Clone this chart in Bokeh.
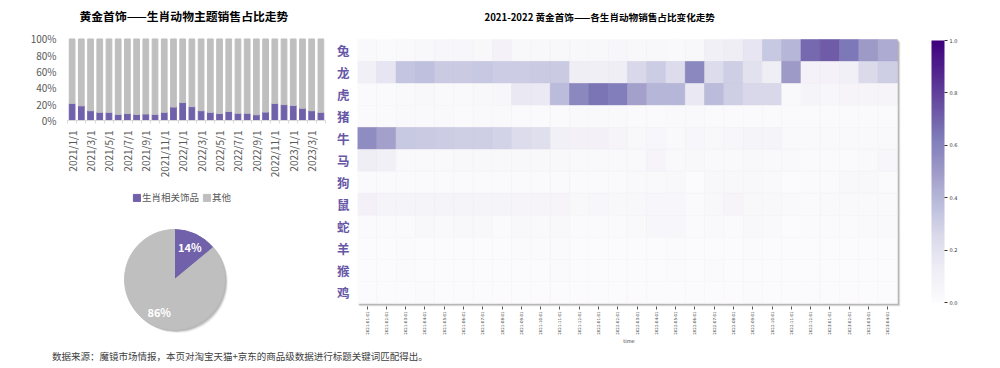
import math
from bokeh.plotting import figure
from bokeh.layouts import row, column
from bokeh.models import (ColumnDataSource, Range1d, FixedTicker, Legend, LegendItem,
                          LinearColorMapper, ColorBar, Div, Label, NumeralTickFormatter,
                          PrintfTickFormatter)
from bokeh.palettes import Purples256
from bokeh.transform import linear_cmap
from bokeh.embed import file_html
from bokeh.resources import INLINE

FONT = "Noto Sans CJK SC"
PURPLE = "#7161ab"
GREY = "#bfbfbf"
LABEL_PURPLE = "#6757a6"

# ---------------- data ----------------
bar_labels = ["2021/1/1", "2021/2/1", "2021/3/1", "2021/4/1", "2021/5/1", "2021/6/1", "2021/7/1",
              "2021/8/1", "2021/9/1", "2021/10/1", "2021/11/1", "2021/12/1", "2022/1/1", "2022/2/1",
              "2022/3/1", "2022/4/1", "2022/5/1", "2022/6/1", "2022/7/1", "2022/8/1", "2022/9/1",
              "2022/10/1", "2022/11/1", "2022/12/1", "2023/1/1", "2023/2/1", "2023/3/1", "2023/4/1"]
zodiac_share = [0.21, 0.18, 0.12, 0.10, 0.10, 0.075, 0.085, 0.075, 0.08, 0.075, 0.10, 0.165,
                0.22, 0.17, 0.12, 0.10, 0.085, 0.11, 0.088, 0.088, 0.07, 0.103, 0.21, 0.195,
                0.185, 0.15, 0.12, 0.10]
other_share = [1 - v for v in zodiac_share]

pie_labels = ["生肖相关饰品", "其他"]
pie_values = [14, 86]

months = ["2021-01-01", "2021-02-01", "2021-03-01", "2021-04-01", "2021-05-01", "2021-06-01",
          "2021-07-01", "2021-08-01", "2021-09-01", "2021-10-01", "2021-11-01", "2021-12-01",
          "2022-01-01", "2022-02-01", "2022-03-01", "2022-04-01", "2022-05-01", "2022-06-01",
          "2022-07-01", "2022-08-01", "2022-09-01", "2022-10-01", "2022-11-01", "2022-12-01",
          "2023-01-01", "2023-02-01", "2023-03-01", "2023-04-01"]
animals = ["兔", "龙", "虎", "猪", "牛", "马", "狗", "鼠", "蛇", "羊", "猴", "鸡"]

rabbit = [0.03, 0.02, 0.03, 0.04, 0.05, 0.05, 0.04, 0.08, 0.04, 0.04, 0.04, 0.04, 0.04, 0.05,
          0.04, 0.04, 0.03, 0.04, 0.10, 0.12, 0.18, 0.33, 0.40, 0.68, 0.72, 0.64, 0.50, 0.44]
dragon = [0.10, 0.18, 0.34, 0.36, 0.32, 0.32, 0.33, 0.31, 0.31, 0.32, 0.32, 0.12, 0.11, 0.12,
          0.26, 0.31, 0.24, 0.58, 0.24, 0.30, 0.20, 0.12, 0.50, 0.08, 0.08, 0.10, 0.25, 0.30]
tiger = [0.02, 0.02, 0.03, 0.04, 0.03, 0.03, 0.04, 0.05, 0.16, 0.15, 0.38, 0.58, 0.65, 0.62,
         0.48, 0.40, 0.40, 0.16, 0.38, 0.30, 0.26, 0.26, 0.03, 0.07, 0.05, 0.06, 0.06, 0.06]
pig = [0.02, 0.02, 0.03, 0.03, 0.03, 0.02, 0.03, 0.03, 0.02, 0.02, 0.02, 0.03, 0.03, 0.03,
       0.02, 0.02, 0.03, 0.03, 0.02, 0.02, 0.02, 0.02, 0.02, 0.02, 0.02, 0.02, 0.02, 0.02]
ox = [0.56, 0.48, 0.33, 0.32, 0.31, 0.30, 0.30, 0.28, 0.24, 0.22, 0.10, 0.09, 0.09, 0.06,
      0.04, 0.05, 0.03, 0.05, 0.04, 0.05, 0.07, 0.07, 0.03, 0.03, 0.03, 0.03, 0.03, 0.03]
horse = [0.12, 0.10, 0.03, 0.03, 0.03, 0.04, 0.04, 0.04, 0.04, 0.04, 0.04, 0.03, 0.03, 0.03,
         0.03, 0.06, 0.03, 0.04, 0.03, 0.03, 0.04, 0.03, 0.03, 0.02, 0.02, 0.02, 0.03, 0.05]
dog = [0.02, 0.02, 0.02, 0.02, 0.02, 0.02, 0.02, 0.02, 0.02, 0.02, 0.02, 0.02, 0.02, 0.02,
       0.03, 0.03, 0.04, 0.01, 0.04, 0.04, 0.04, 0.03, 0.01, 0.02, 0.02, 0.04, 0.04, 0.02]
rat = [0.09, 0.07, 0.07, 0.07, 0.07, 0.07, 0.07, 0.07, 0.06, 0.06, 0.06, 0.04, 0.05, 0.04,
       0.04, 0.05, 0.05, 0.02, 0.04, 0.06, 0.04, 0.04, 0.03, 0.02, 0.03, 0.03, 0.03, 0.03]
snake = [0.02, 0.02, 0.02, 0.04, 0.03, 0.04, 0.04, 0.02, 0.04, 0.03, 0.04, 0.02, 0.02, 0.02,
         0.03, 0.05, 0.05, 0.02, 0.03, 0.02, 0.04, 0.03, 0.01, 0.02, 0.02, 0.02, 0.03, 0.03]
goat = [0.01, 0.01, 0.02, 0.01, 0.01, 0.01, 0.01, 0.01, 0.02, 0.02, 0.02, 0.01, 0.01, 0.01,
        0.01, 0.01, 0.02, 0.01, 0.01, 0.01, 0.02, 0.01, 0.01, 0.01, 0.01, 0.01, 0.01, 0.01]
monkey = [0.01, 0.01, 0.02, 0.01, 0.01, 0.01, 0.01, 0.01, 0.01, 0.01, 0.02, 0.01, 0.01, 0.01,
          0.01, 0.01, 0.02, 0.01, 0.02, 0.01, 0.01, 0.01, 0.01, 0.01, 0.01, 0.01, 0.01, 0.01]
rooster = [0.01, 0.01, 0.01, 0.02, 0.01, 0.01, 0.01, 0.01, 0.01, 0.01, 0.01, 0.01, 0.01, 0.01,
           0.01, 0.01, 0.01, 0.01, 0.01, 0.01, 0.02, 0.01, 0.01, 0.01, 0.01, 0.01, 0.01, 0.01]
heat_rows = [rabbit, dragon, tiger, pig, ox, horse, dog, rat, snake, goat, monkey, rooster]

title_left = "黄金首饰——生肖动物主题销售占比走势"
title_right = "2021-2022 黄金首饰——各生肖动物销售占比变化走势"
source_note = "数据来源：魔镜市场情报，本页对淘宝天猫+京东的商品级数据进行标题关键词匹配得出。"

HEAD = 31          # px of title space kept inside each frame, above the data area

# ---------------- left: 100% stacked bars ----------------
n = len(bar_labels)
bar_src = ColumnDataSource(dict(x=list(range(n)), zodiac=zodiac_share, other=other_share))

P1_H, P1_BOT = 172, 58
p1_data_h = P1_H - HEAD - P1_BOT            # 83 px for 0..100 %
p1 = figure(width=325, height=P1_H, x_range=Range1d(-0.5, n - 0.5),
            y_range=Range1d(0, 1 + HEAD / p1_data_h),
            output_backend="svg", toolbar_location=None, title=None,
            min_border_left=59, min_border_right=8, min_border_top=0,
            min_border_bottom=P1_BOT)
rs = p1.vbar_stack(["zodiac", "other"], x="x", width=0.62, color=[PURPLE, GREY], source=bar_src)
p1.add_layout(Label(x=12, y=p1_data_h + 22, x_units="screen", y_units="screen",
                    text=title_left, text_font=FONT, text_font_size="11.8px",
                    text_font_style="bold", text_color="#000000", text_baseline="middle",
                    text_align="left"))
p1.xgrid.visible = False
p1.ygrid.visible = False
p1.outline_line_color = None

p1.yaxis.ticker = FixedTicker(ticks=[0, 0.2, 0.4, 0.6, 0.8, 1.0])
p1.yaxis.formatter = NumeralTickFormatter(format="0%")
p1.yaxis.axis_line_color = None
p1.yaxis.major_tick_line_color = None
p1.yaxis.minor_tick_line_color = None
p1.yaxis.major_label_text_font = FONT
p1.yaxis.major_label_text_font_size = "10px"
p1.yaxis.major_label_text_color = "#595959"
p1.yaxis.major_label_standoff = 5

p1.xaxis.ticker = FixedTicker(ticks=list(range(0, n, 2)),
                              minor_ticks=[i - 0.5 for i in range(n + 1)])
p1.xaxis.major_label_overrides = {i: bar_labels[i] for i in range(0, n, 2)}
p1.xaxis.major_label_orientation = math.pi / 2
p1.xaxis.major_label_text_font = FONT
p1.xaxis.major_label_text_font_size = "10px"
p1.xaxis.major_label_text_color = "#595959"
p1.xaxis.axis_line_color = "#d9d9d9"
p1.xaxis.major_tick_line_color = None
p1.xaxis.minor_tick_line_color = "#d9d9d9"
p1.xaxis.minor_tick_out = 3
p1.xaxis.minor_tick_in = 0
p1.xaxis.major_label_standoff = 4

# ---------------- left: legend + pie ----------------
total = sum(pie_values)
starts, ends, mids, cum = [], [], [], 0
for v in pie_values:
    a0 = math.pi / 2 - 2 * math.pi * (cum + v) / total
    a1 = math.pi / 2 - 2 * math.pi * cum / total
    starts.append(a0)
    ends.append(a1)
    mids.append((a0 + a1) / 2)
    cum += v
R = 50
pie_src = ColumnDataSource(dict(start=starts, end=ends, color=[PURPLE, GREY], name=pie_labels))
lab_src = ColumnDataSource(dict(x=[0.72 * R * math.cos(m) for m in mids],
                                y=[0.72 * R * math.sin(m) for m in mids],
                                t=[f"{v}%" for v in pie_values]))

# frame aligned with the bar chart frame (67..325 px); 1 data unit = 1 px
p2 = figure(width=325, height=168, x_range=Range1d(-107, 151), y_range=Range1d(-69, 99),
            output_backend="svg", toolbar_location=None, title=None,
            x_axis_location=None, y_axis_location=None,
            min_border_left=59, min_border_right=8, min_border_top=0, min_border_bottom=0)
p2.grid.visible = False
p2.outline_line_color = None
for off, al in [(3.0, 0.06), (2.2, 0.10), (1.4, 0.14)]:
    p2.circle(x=off, y=-off, radius=R + 0.5, fill_color="#000000", fill_alpha=al, line_color=None)
wedges = p2.wedge(x=0, y=0, radius=R, start_angle="start", end_angle="end", fill_color="color",
                  line_color="color", source=pie_src)
p2.text(x="x", y="y", text="t", source=lab_src, text_color="white", text_align="center",
        text_baseline="middle", text_font_size="11px", text_font_style="bold",
        text_font={"value": FONT})

legend = Legend(items=[LegendItem(label=pie_labels[i], renderers=[wedges], index=i)
                       for i in range(len(pie_labels))],
                orientation="horizontal", location=(65, 144),
                label_text_font=FONT, label_text_font_size="9.5px", label_text_color="#595959",
                glyph_width=9, glyph_height=9, label_height=12, label_standoff=1, spacing=3,
                padding=2, margin=0, border_line_color=None, background_fill_alpha=0)
p2.add_layout(legend, "center")

# ---------------- right: heatmap ----------------
nr = len(animals)
xs, ys, vs = [], [], []
for j, vals in enumerate(heat_rows):
    for i, v in enumerate(vals):
        xs.append(i)
        ys.append(nr - 1 - j)
        vs.append(v)
heat_src = ColumnDataSource(dict(x=xs, y=ys, v=vs))
palette = list(Purples256)[::-1]
mapper = LinearColorMapper(palette=palette, low=0, high=1)

P3_H, P3_BOT = 340, 42
SH = 0.14                                   # shadow depth in cell units
p3_data_h = P3_H - HEAD - P3_BOT            # 267 px
unit_px = p3_data_h / (nr + SH)
p3 = figure(width=659, height=P3_H, x_range=Range1d(-0.5, n - 0.5 + 0.16),
            y_range=Range1d(-0.5 - SH, nr - 0.5 + HEAD / unit_px),
            output_backend="svg", toolbar_location=None, title=None,
            min_border_left=24, min_border_right=92, min_border_top=0,
            min_border_bottom=P3_BOT)
p3.add_layout(Label(x=127, y=p3_data_h + 23, x_units="screen", y_units="screen",
                    text=title_right, text_font=FONT, text_font_size="9.6px",
                    text_font_style="bold", text_color="#000000", text_baseline="middle",
                    text_align="left"))
p3.grid.visible = False
p3.outline_line_color = None

# drop shadow of the heat grid
p3.quad(left=-0.5 + 0.1, right=n - 0.5 + 0.16, bottom=-0.5 - SH, top=nr - 0.5 - 0.1,
        fill_color="#000000", fill_alpha=0.12, line_color=None)
p3.quad(left=-0.5 + 0.05, right=n - 0.5 + 0.09, bottom=-0.5 - 0.08, top=nr - 0.5 - 0.05,
        fill_color="#000000", fill_alpha=0.18, line_color=None)
p3.rect(x="x", y="y", width=1, height=1, source=heat_src,
        fill_color=linear_cmap("v", palette, 0, 1), line_color=linear_cmap("v", palette, 0, 1),
        line_width=0.6)

p3.yaxis.ticker = FixedTicker(ticks=list(range(nr)))
p3.yaxis.major_label_overrides = {nr - 1 - j: a for j, a in enumerate(animals)}
p3.yaxis.major_label_text_font = FONT
p3.yaxis.major_label_text_font_size = "12.5px"
p3.yaxis.major_label_text_font_style = "bold"
p3.yaxis.major_label_text_color = LABEL_PURPLE
p3.yaxis.axis_line_color = None
p3.yaxis.major_tick_line_color = None
p3.yaxis.major_tick_out = 0
p3.yaxis.major_tick_in = 0
p3.yaxis.minor_tick_line_color = None
p3.yaxis.minor_tick_out = 0
p3.yaxis.major_label_standoff = 8

p3.xaxis.ticker = FixedTicker(ticks=list(range(n)))
p3.xaxis.major_label_overrides = {i: m for i, m in enumerate(months)}
p3.xaxis.major_label_orientation = math.pi / 2
p3.xaxis.major_label_text_font = "DejaVu Sans"
p3.xaxis.major_label_text_font_size = "4px"
p3.xaxis.major_label_text_color = "#333333"
p3.xaxis.axis_line_color = None
p3.xaxis.major_tick_line_color = "#555555"
p3.xaxis.major_tick_out = 3
p3.xaxis.major_tick_in = 0
p3.xaxis.minor_tick_line_color = None
p3.xaxis.major_label_standoff = 2
p3.xaxis.axis_label = "time"
p3.xaxis.axis_label_text_font = "DejaVu Sans"
p3.xaxis.axis_label_text_font_size = "5px"
p3.xaxis.axis_label_text_font_style = "normal"
p3.xaxis.axis_label_text_color = "#333333"
p3.xaxis.axis_label_standoff = 0

cb = ColorBar(color_mapper=mapper, ticker=FixedTicker(ticks=[0, 0.2, 0.4, 0.6, 0.8, 1.0]),
              formatter=PrintfTickFormatter(format="%.1f"), width=13, height=262,
              location=(574, 4), padding=0, margin=0,
              major_label_text_font="DejaVu Sans", major_label_text_font_size="5px",
              major_label_text_color="#333333", major_tick_line_color="#333333",
              major_tick_out=3, major_tick_in=0, label_standoff=2,
              bar_line_color=None, border_line_color=None, background_fill_alpha=0)
p3.add_layout(cb, "center")

footer = Div(text=f'<div style="font-family:\'{FONT}\';font-size:9.5px;line-height:12px;'
                  f'color:#404040;margin-left:44px;padding-top:2px;white-space:nowrap">'
                  f'{source_note}</div>', width=984, height=12, margin=(0, 0, 0, 0))

layout = column(row(column(p1, p2, spacing=0), p3, spacing=0), footer, spacing=0,
                margin=(8, 8, 0, 8))
open("out.html", "w").write(file_html(layout, INLINE))
